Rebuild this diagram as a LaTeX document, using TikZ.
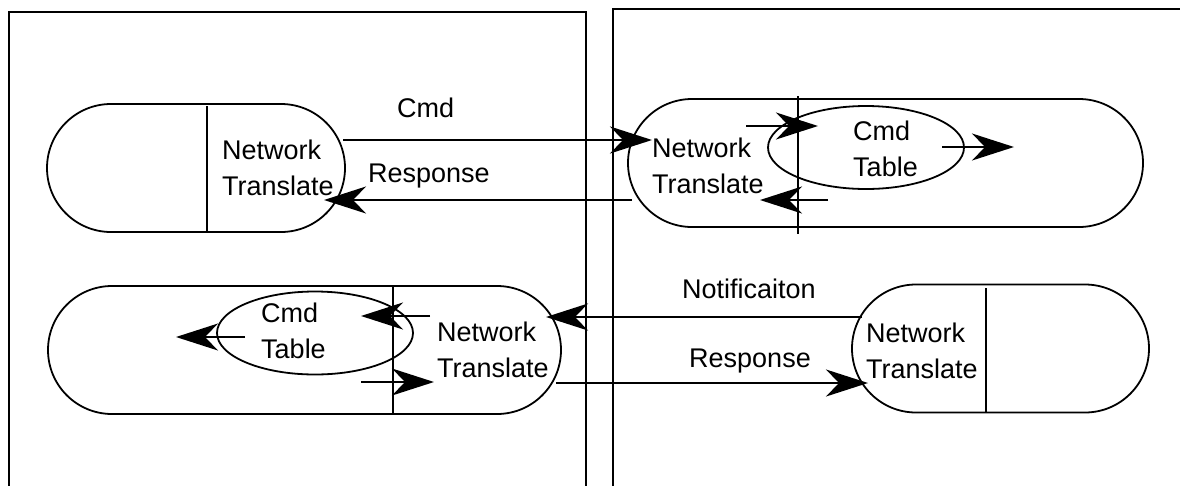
\documentclass[tikz,border=0pt]{standalone}
\usepackage{fontspec}
\setmainfont{Liberation Sans}
\usetikzlibrary{arrows.meta,shapes.geometric}
\newcommand{\stacklines}[2]{\begin{tabular}[t]{@{}l@{}}#1\\#2\end{tabular}}
\begin{document}
\begin{tikzpicture}[x=1pt,y=-1pt,
  panel/.style={line width=2pt},
  stadium/.style={draw, line width=1.8pt, rounded corners=64pt, minimum height=128pt, inner sep=0pt},
  divider/.style={line width=1.8pt},
  table/.style={draw, ellipse, line width=1.8pt, minimum width=196pt, minimum height=83pt, inner sep=0pt},
  lbl/.style={inner sep=0pt, anchor=base west, font=\fontsize{27}{36}\selectfont},
  arr/.style={line width=1.8pt, -{Stealth[length=42pt,width=27pt,inset=13pt]}}
]
\useasboundingbox (0,0) rectangle (1180,485);
\clip (0,0) rectangle (1180,485);

% two hosts
\draw[panel] (9,495) -- (9,12) -- (586,12) -- (586,495);
\draw[panel] (613,495) -- (613,9) -- (1190,9);

% endpoints
\node[stadium, minimum width=298pt] (tl) at (196,168) {};
\node[stadium, minimum width=515pt] (tr) at (885.5,163) {};
\node[stadium, minimum width=513pt] (bl) at (304.5,350) {};
\node[stadium, minimum width=297pt] (br) at (1000.5,348.5) {};

% command tables
\node[table] (trtab) at (866,147.5) {};
\node[table] (bltab) at (315,333) {};

% dividers
\draw[divider] (207,106) -- (207,232);
\draw[divider] (798,96) -- (798,234);
\draw[divider] (393,286) -- (393,414);
\draw[divider] (986,288) -- (986,413);

% texts
\node[lbl] (tlnt) at (222,159) {\stacklines{Network}{Translate}};
\node[lbl] (trnt) at (652,157) {\stacklines{Network}{Translate}};
\node[lbl] (blnt) at (437,341) {\stacklines{Network}{Translate}};
\node[lbl] (brnt) at (866,342) {\stacklines{Network}{Translate}};
\node[lbl] (trct) at (853,140) {\stacklines{Cmd}{Table}};
\node[lbl] (blct) at (261,322) {\stacklines{Cmd}{Table}};

\node[lbl] (cmd) at (397,117) {Cmd};
\node[lbl] (resp1) at (368,182) {Response};
\node[lbl] (notif) at (682,298) {Notificaiton};
\node[lbl] (resp2) at (689,367) {Response};

% connector end points
\coordinate (cmdS) at (343,140);   \coordinate (cmdE) at (652,140);
\coordinate (rspS) at (632,200);   \coordinate (rspE) at (324,200);
\coordinate (ntfS) at (862,317);   \coordinate (ntfE) at (546,317);
\coordinate (rs2S) at (556,383);   \coordinate (rs2E) at (868,383);

\draw[arr] (cmdS) -- (cmdE);
\draw[arr] (rspS) -- (rspE);
\draw[arr] (ntfS) -- (ntfE);
\draw[arr] (rs2S) -- (rs2E);

% flows through the command tables
\coordinate (a1S) at (746,126); \coordinate (a1E) at (818,126);
\coordinate (a2S) at (942,147); \coordinate (a2E) at (1014,147);
\coordinate (a3S) at (828,200); \coordinate (a3E) at (760,200);
\coordinate (b1S) at (430,316); \coordinate (b1E) at (361,316);
\coordinate (b2S) at (245,337); \coordinate (b2E) at (176,337);
\coordinate (b3S) at (361,382); \coordinate (b3E) at (434,382);

\draw[arr] (a1S) -- (a1E);
\draw[arr] (a2S) -- (a2E);
\draw[arr] (a3S) -- (a3E);
\draw[arr] (b1S) -- (b1E);
\draw[arr] (b2S) -- (b2E);
\draw[arr] (b3S) -- (b3E);
\end{tikzpicture}
\end{document}
